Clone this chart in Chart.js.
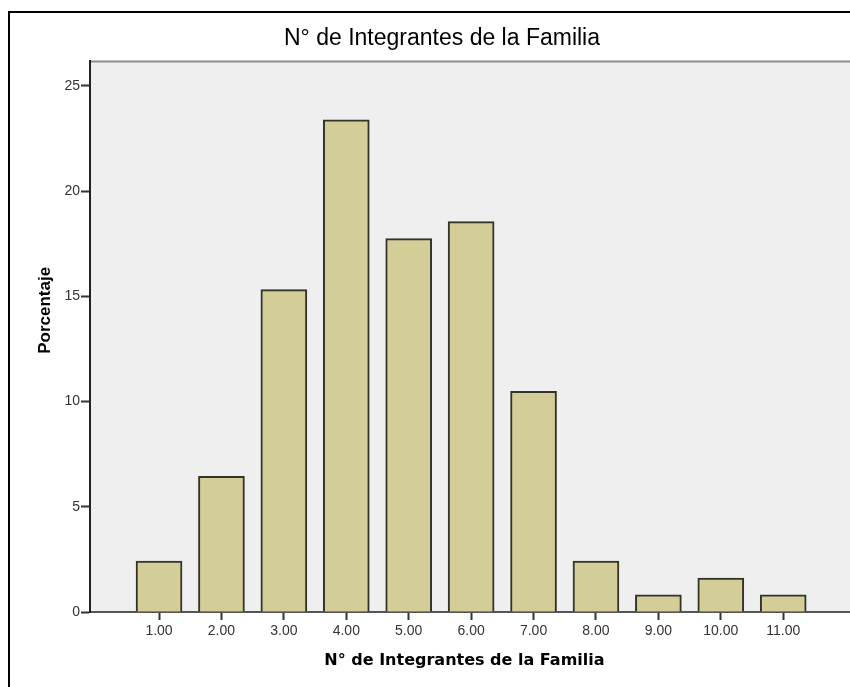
<!DOCTYPE html>
<html>
<head>
<meta charset="utf-8">
<script src="https://cdn.jsdelivr.net/npm/chart.js@4"></script>
<style>
    html, body { margin: 0; padding: 0; background: #ffffff; overflow: hidden; }
    #wrap { position: relative; width: 850px; height: 687px; }
    #frame { position: absolute; left: 8px; top: 11px; width: 900px; height: 700px; border: 2px solid #000; box-sizing: border-box; }
    #stock_graph { position: absolute; left: 0; top: 0; }
</style>
</head>
<body>
<div id="wrap">
    <div id="frame"></div>
    <canvas id="stock_graph" width="850" height="687"></canvas>
</div>
<script>
// N° de integrantes (x position) and percentage of families
var categories = [1, 2, 3, 4, 5, 6, 7, 8, 9, 10, 11];
var x_labels = ["1.00", "2.00", "3.00", "4.00", "5.00", "6.00", "7.00", "8.00", "9.00", "10.00", "11.00"];
var percentages = [2.42, 6.45, 15.32, 23.39, 17.74, 18.55, 10.48, 2.42, 0.81, 1.61, 0.81];
var y_ticks = [0, 5, 10, 15, 20, 25];

var chart_title = "N° de Integrantes de la Familia";
var x_title = "N° de Integrantes de la Familia";
var y_title = "Porcentaje";

var points = [];
for (var i = 0; i < categories.length; i++) {
    points.push({ x : categories[i], y : percentages[i] });
}

// grey plot background + top edge, like the SPSS output
var plot_background = {
    id : "plot_background",
    beforeDraw : function(chart){
        var c = chart.ctx;
        var a = chart.chartArea;
        c.save();
        c.fillStyle = "#efefef";
        c.fillRect(a.left, a.top, a.right - a.left, a.bottom - a.top);
        c.strokeStyle = "#8c8c8c";
        c.lineWidth = 2;
        c.beginPath();
        c.moveTo(a.left, a.top + 1);
        c.lineTo(a.right, a.top + 1);
        c.stroke();
        c.restore();
    }
};

var ctx = document.getElementById("stock_graph");

var graph_data = {
    datasets : [
        {
            label : y_title,
            data : points,
            backgroundColor : "#d3cd97",
            borderColor : "#333328",
            borderWidth : 2,
            barThickness : 46
        }
    ]
};

var options = {
    responsive : false,
    animation : false,
    layout : {
        padding : { left : 34, right : 0, top : 0, bottom : 16 }
    },
    plugins : {
        legend : { display : false },
        tooltip : { enabled : false },
        title : {
            display : true,
            text : chart_title,
            color : "#000000",
            font : { family : "'Liberation Sans', Arial", size : 23, weight : "normal", lineHeight : 1.2 },
            padding : { top : 25, bottom : 8 }
        }
    },
    scales : {
        x : {
            type : "linear",
            offset : false,
            min : -0.106,
            max : 12.07,
            afterBuildTicks : function(scale){
                scale.ticks = categories.map(function(v){ return { value : v }; });
            },
            afterFit : function(scale){ scale.height = 59; },
            ticks : {
                color : "#333333",
                padding : 3,
                font : { family : "'Liberation Sans', Arial", size : 14 },
                callback : function(value){ return x_labels[categories.indexOf(value)]; }
            },
            grid : {
                display : true,
                offset : false,
                drawOnChartArea : false,
                tickLength : 8,
                tickColor : "#333333",
                tickWidth : 2
            },
            border : { display : true, color : "#555555", width : 2 },
            title : {
                display : true,
                text : x_title + "\u00a0\u00a0",
                color : "#000000",
                font : { family : "'DejaVu Sans', Verdana", size : 16, weight : "bold", lineHeight : 1.2 },
                padding : { top : 0, bottom : 1 }
            }
        },
        y : {
            min : 0,
            max : 26.2,
            afterBuildTicks : function(scale){
                scale.ticks = y_ticks.map(function(v){ return { value : v }; });
            },
            afterFit : function(scale){ scale.width = 56; },
            ticks : {
                color : "#333333",
                padding : 1,
                font : { family : "'Liberation Sans', Arial", size : 14 }
            },
            grid : {
                display : true,
                drawOnChartArea : false,
                tickLength : 9,
                tickColor : "#333333",
                tickWidth : 2
            },
            border : { display : true, color : "#222222", width : 2 },
            title : {
                display : true,
                text : "\u00a0\u00a0\u00a0\u00a0\u00a0\u00a0\u00a0\u00a0\u00a0\u00a0\u00a0" + y_title,
                color : "#000000",
                font : { family : "'Liberation Sans', Arial", size : 17, weight : "bold", lineHeight : 1.2 },
                padding : { top : 1, bottom : 0 }
            }
        }
    }
};

var chart = new Chart(ctx, {
    type : "bar",
    data : graph_data,
    options : options,
    plugins : [plot_background]
});
</script>
</body>
</html>
